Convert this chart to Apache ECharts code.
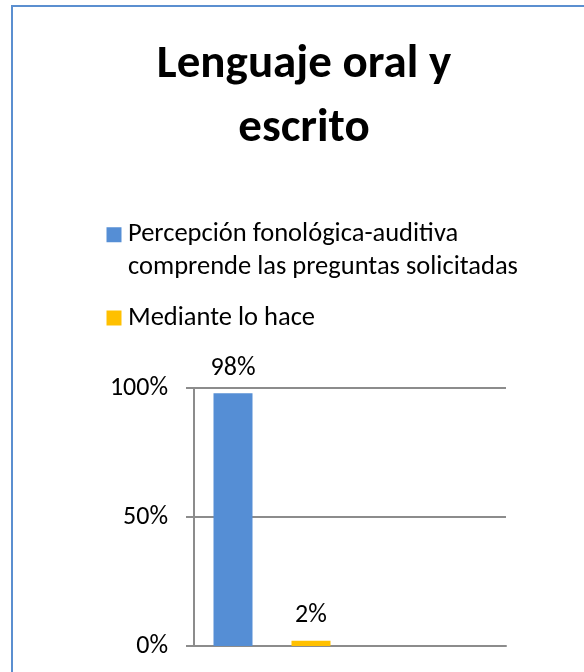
<!DOCTYPE html>
<html>
<head>
<meta charset="utf-8">
<script src="https://cdn.jsdelivr.net/npm/echarts@6/dist/echarts.min.js"></script>
<style>
  html, body { margin: 0; padding: 0; background: #fff; }
  #chart { width: 584px; height: 672px; }
</style>
</head>
<body>
<div id="chart"></div>
<script>
// Chart content
const titleText = 'Lenguaje oral y\nescrito';
const slots = ['s1', 's2', 's3', 's4'];
const seriesNames = ['Percepción fonológica-auditiva comprende las preguntas solicitadas', 'Mediante lo hace'];
const legendLines = ['Percepción fonológica-auditiva', 'comprende las preguntas solicitadas'];
const percepcionValues = [98, '-', '-', '-'];
const medianteValues = ['-', 2, '-', '-'];
const yTicks = [0, 50, 100];

const FONT = 'Carlito, Calibri, Lato, sans-serif';
const blue = '#558ED5';
const gold = '#FFC000';
const gray = '#8C8C8C';
// square marker, kept square inside a slightly wider legend slot
const squareIcon = 'path://M0,0H15V15H0Z';

const chart = echarts.init(document.getElementById('chart'), null, { renderer: 'canvas' });

const labelCfg = {
  show: true,
  position: 'top',
  distance: 12,
  fontFamily: FONT,
  fontSize: 26,
  color: '#000',
  formatter: p => p.value + '%'
};

const legendText = {
  fontFamily: FONT,
  fontSize: 26.5,
  color: '#000'
};

chart.setOption({
  backgroundColor: '#fff',
  animation: false,
  graphic: [{
    type: 'rect',
    shape: { x: 12, y: 6, width: 600, height: 700 },
    style: { fill: 'none', stroke: '#5B8FD0', lineWidth: 2 },
    silent: true
  }],
  title: {
    text: titleText,
    left: 299,
    textAlign: 'center',
    top: 28,
    textStyle: {
      fontFamily: FONT,
      fontSize: 47,
      fontWeight: 'bold',
      color: '#000',
      lineHeight: 64
    }
  },
  legend: [{
    data: [seriesNames[0]],
    orient: 'vertical',
    left: 106.5,
    top: 186,
    padding: 0,
    itemWidth: 18,
    itemHeight: 15,
    icon: squareIcon,
    symbolKeepAspect: true,
    // blank leading line keeps the marker level with the first text line
    formatter: () => ' \n' + legendLines.join('\n'),
    textStyle: Object.assign({ lineHeight: 32.5 }, legendText)
  }, {
    data: [seriesNames[1]],
    orient: 'vertical',
    left: 106.5,
    top: 302,
    padding: 0,
    itemWidth: 18,
    itemHeight: 15,
    icon: squareIcon,
    symbolKeepAspect: true,
    textStyle: Object.assign({ lineHeight: 32 }, legendText)
  }],
  grid: {
    left: 194,
    right: 78,
    top: 388,
    bottom: 26,
    containLabel: false
  },
  xAxis: {
    type: 'category',
    data: slots,
    axisLine: { show: true, lineStyle: { color: gray, width: 2 } },
    axisTick: { show: false },
    axisLabel: { show: false },
    splitLine: { show: false }
  },
  yAxis: {
    type: 'value',
    min: yTicks[0],
    max: yTicks[yTicks.length - 1],
    interval: yTicks[1] - yTicks[0],
    axisLine: { show: true, lineStyle: { color: gray, width: 2 } },
    axisTick: { show: true, length: 8, lineStyle: { color: gray, width: 2 } },
    axisLabel: {
      margin: 26,
      fontFamily: FONT,
      fontSize: 26,
      color: '#000',
      formatter: v => v + '%'
    },
    splitLine: { show: true, lineStyle: { color: gray, width: 2 } }
  },
  series: [{
    name: seriesNames[0],
    type: 'bar',
    stack: 'all',
    barWidth: '50%',
    data: percepcionValues,
    itemStyle: { color: blue },
    label: labelCfg
  }, {
    name: seriesNames[1],
    type: 'bar',
    stack: 'all',
    barWidth: '50%',
    data: medianteValues,
    itemStyle: { color: gold },
    label: labelCfg
  }]
});
</script>
</body>
</html>
